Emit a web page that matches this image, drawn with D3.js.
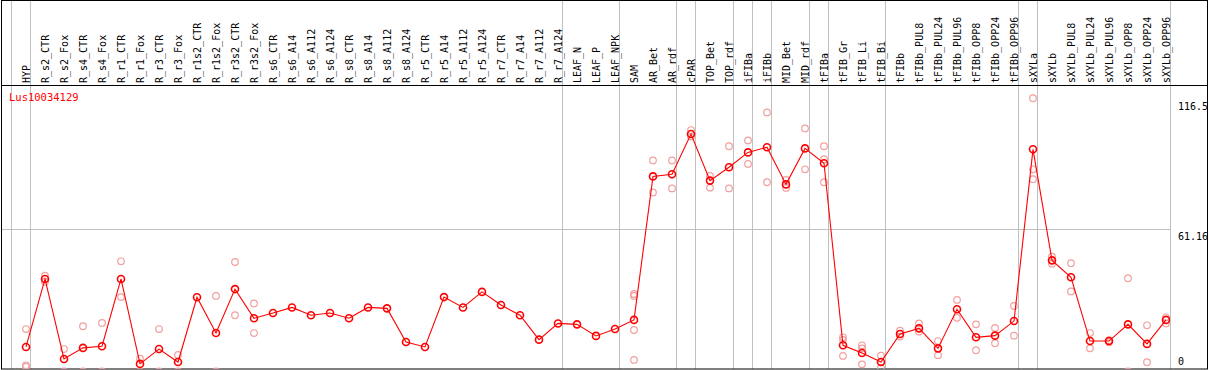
<!DOCTYPE html>
<html><head><meta charset="utf-8">
<script src="https://cdn.jsdelivr.net/npm/d3@7"></script>
<style>html,body{margin:0;padding:0;background:#fff;}svg{display:block;}</style>
</head><body>
<script>
const categories = ["HYP","R_s2_CTR","R_s2_Fox","R_s4_CTR","R_s4_Fox","R_r1_CTR","R_r1_Fox","R_r3_CTR","R_r3_Fox","R_r1s2_CTR","R_r1s2_Fox","R_r3s2_CTR","R_r3s2_Fox","R_s6_CTR","R_s6_A14","R_s6_A112","R_s6_A124","R_s8_CTR","R_s8_A14","R_s8_A112","R_s8_A124","R_r5_CTR","R_r5_A14","R_r5_A112","R_r5_A124","R_r7_CTR","R_r7_A14","R_r7_A112","R_r7_A124","LEAF_N","LEAF_P","LEAF_NPK","SAM","AR_Bet","AR_rdf","cPAR","TOP_Bet","TOP_rdf","iFIBa","iFIBb","MID_Bet","MID_rdf","tFIBa","tFIB_Gr","tFIB_Li","tFIB_Bi","tFIBb","tFIBb_PUL8","tFIBb_PUL24","tFIBb_PUL96","tFIBb_OPP8","tFIBb_OPP24","tFIBb_OPP96","sXYLa","sXYLb","sXYLb_PUL8","sXYLb_PUL24","sXYLb_PUL96","sXYLb_OPP8","sXYLb_OPP24","sXYLb_OPP96"];
const means = [10.9,39.8,5.8,10.5,11.2,39.8,3.7,10.0,4.5,32.0,16.8,35.5,23.1,25.3,27.7,24.4,25.3,23.1,27.7,27.3,13.0,10.9,32.1,27.7,34.3,28.7,24.4,14.0,20.9,20.5,15.6,18.5,22.4,83.4,84.3,101.4,81.6,87.3,93.6,95.8,80.0,95.3,89.0,11.6,8.3,4.5,16.4,18.8,10.3,26.9,15.0,15.7,21.9,94.9,47.7,40.5,13.4,13.4,20.5,12.2,22.4];
const replicates = [
 [18.5,3.1,2.5],[41.2,38.6],[10.0,0.5],[19.7,0.5],[21.1,0.5],[47.3,32.1],[5.9,0.5],[18.5,0.5],[7.5,0.5],
 [],[32.6,0.5],[47.0,24.4],[29.4,16.8],[],[],[],[],[],[],[],[],[],[],[],[],[],[],[],[],[],[],[],
 [33.4,32.6,18.1,5.4],[90.2,76.6],[90.2,78.3],[103.1,100.3],[83.6,78.6],[96.2,78.3],[98.7,88.7],[110.6,80.9],[81.9,78.5],[103.8,86.4],[96.2,90.7,80.9],
 [15.0,13.9,7.1],[11.6,10.3,3.5],[7.2,2.1],[17.8,15.3],[20.9,17.4],[13.4,7.4],[30.9,23.3],[20.5,9.5],[19.0,12.5],[28.3,15.7],
 [116.6,86.4,82.2],[49.3,46.3],[46.5,34.5],[16.8,10.3],[12.9,13.8],[40.1,0.5],[20.1,4.4],[23.5,20.9]
];
const groupBreaks = [-1,0,28,31,34,35,37,38,39,41,42,45,52,53,60];
const tickValues = [116.5,61.16,0];
const tickLabels = ["116.5","61.16","0"];
const geneName = "Lus10034129";

const W = 1209, H = 370;
const svg = d3.select("body").append("svg").attr("width",W).attr("height",H);
const font = "'DejaVu Sans Mono', 'Liberation Mono', monospace";
const x = d3.scalePoint().domain(d3.range(categories.length)).range([26,1166]);
const y = d3.scaleLinear().domain([0,116.5]).range([372.6,98.5]);
const step = x.step();

// group separators (full height)
svg.append("g").selectAll("line").data(groupBreaks).join("line")
  .attr("x1",d=> (d<0 ? x(0)-step : x(d)) + 4.5).attr("x2",d=> (d<0 ? x(0)-step : x(d)) + 4.5)
  .attr("y1",0).attr("y2",369).attr("stroke","#c0c0c0").attr("stroke-width",1);

// horizontal grid at middle tick
svg.append("line").attr("x1",1).attr("x2",1170.5).attr("y1",Math.round(y(61.16))+0.5).attr("y2",Math.round(y(61.16))+0.5)
  .attr("stroke","#c0c0c0");

// borders
svg.append("rect").attr("x",1.5).attr("y",0.5).attr("width",1206).attr("height",368.5)
  .attr("fill","none").attr("stroke","#000").attr("stroke-width",1);
svg.append("line").attr("x1",1).attr("x2",1208).attr("y1",85.5).attr("y2",85.5).attr("stroke","#000");

// category labels
svg.append("g").selectAll("text").data(categories).join("text")
  .attr("transform",(d,i)=>`translate(${x(i)},83) rotate(-90)`)
  .attr("dy","0.35em").attr("text-anchor","start")
  .attr("x",0)
  .attr("font-family",font).attr("font-size",10).attr("fill","#000")
  .text(d=>d);

// title
svg.append("text").attr("x",9).attr("y",101).attr("font-family",font).attr("font-size",10.5)
  .attr("fill","#ff0000").text(geneName);

// y tick labels
svg.append("g").selectAll("text").data(tickValues).join("text")
  .attr("x",1178).attr("y",(d)=> d===0 ? 365 : y(d)+11)
  .attr("font-family",font).attr("font-size",10).attr("fill","#000")
  .text((d,i)=>tickLabels[i]);

// plotting area clip
svg.append("clipPath").attr("id","clip").append("rect").attr("x",2).attr("y",86).attr("width",1168).attr("height",283);
const plot = svg.append("g").attr("clip-path","url(#clip)");

const repPts = [];
replicates.forEach((arr,i)=>arr.forEach(v=>repPts.push({i,v})));
plot.append("g").selectAll("circle").data(repPts).join("circle")
  .attr("cx",d=>x(d.i)).attr("cy",d=>y(d.v)).attr("r",3.3)
  .attr("fill","none").attr("stroke","#f0a0a0").attr("stroke-width",1.2);

plot.append("path").datum(means)
  .attr("d",d3.line().x((d,i)=>x(i)).y(d=>y(d)))
  .attr("fill","none").attr("stroke","#ff0000").attr("stroke-width",1.1);

plot.append("g").selectAll("circle").data(means).join("circle")
  .attr("cx",(d,i)=>x(i)).attr("cy",d=>y(d)).attr("r",3.5)
  .attr("fill","none").attr("stroke","#ff0000").attr("stroke-width",1.6);
</script>
</body></html>
